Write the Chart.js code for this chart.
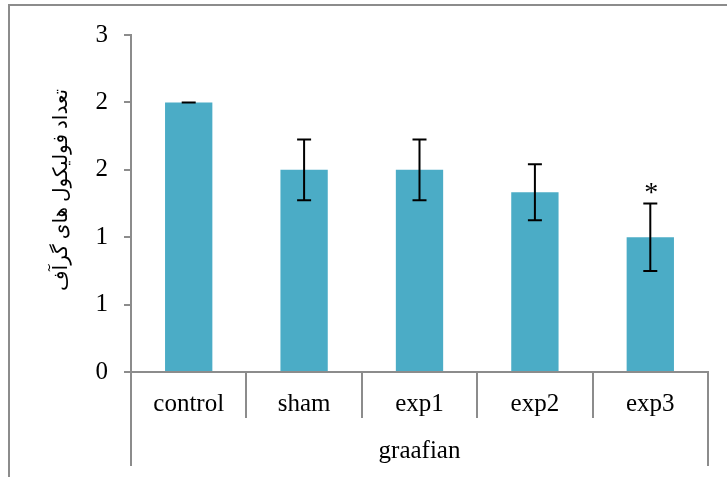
<!DOCTYPE html>
<html lang="en">
<head>
    <meta charset="UTF-8">
    <title>graafian</title>
    <style>
        body {
            margin: 0;
            padding: 0;
            background-color: #ffffff;
        }
        .container {
            width: 727px;
            height: 477px;
            position: relative;
        }
    </style>
    <script src="https://cdn.jsdelivr.net/npm/chart.js"></script>
</head>
<body>
    <div class="container">
        <canvas id="barChart"></canvas>
    </div>

    <script>
        // data
        const categories = ['control', 'sham', 'exp1', 'exp2', 'exp3'];
        const groupLabel = 'graafian';
        const means = [2.4, 1.8, 1.8, 1.6, 1.2];
        const errors = [0, 0.27, 0.27, 0.25, 0.3];
        const marks = ['', '', '', '', '*'];
        const yTitle = 'تعداد فولیکول های گرآف';

        const serif = '"Liberation Serif", "Times New Roman", "DejaVu Sans", serif';
        const axisGray = '#8c8c8c';

        // error bars, separators, group label, frame
        const extras = {
            id: 'extras',
            afterDraw(chart) {
                const ctx = chart.ctx;
                const x = chart.scales.x;
                const y = chart.scales.y;
                const area = chart.chartArea;
                ctx.save();

                // outer frame (only top and left visible)
                ctx.strokeStyle = axisGray;
                ctx.lineWidth = 2;
                ctx.beginPath();
                ctx.moveTo(9, 477);
                ctx.lineTo(9, 5);
                ctx.lineTo(727, 5);
                ctx.stroke();

                // category separators below the axis
                const half = (x.getPixelForValue(1) - x.getPixelForValue(0)) / 2;
                for (let i = 0; i <= categories.length; i++) {
                    const px = Math.round(x.getPixelForValue(i) - half);
                    const end = (i === 0 || i === categories.length) ? 466 : 418;
                    ctx.beginPath();
                    ctx.moveTo(px, area.bottom);
                    ctx.lineTo(px, end);
                    ctx.stroke();
                }

                // group label
                ctx.fillStyle = '#000';
                ctx.font = '25px ' + serif;
                ctx.textAlign = 'center';
                ctx.textBaseline = 'middle';
                ctx.fillText(groupLabel, (area.left + area.right) / 2, 451);

                // error bars
                ctx.strokeStyle = '#000';
                ctx.lineWidth = 2;
                means.forEach((m, i) => {
                    const px = x.getPixelForValue(i);
                    const top = y.getPixelForValue(m + errors[i]);
                    const bot = y.getPixelForValue(m - errors[i]);
                    ctx.beginPath();
                    ctx.moveTo(px, top);
                    ctx.lineTo(px, bot);
                    ctx.moveTo(px - 7, top);
                    ctx.lineTo(px + 7, top);
                    ctx.moveTo(px - 7, bot);
                    ctx.lineTo(px + 7, bot);
                    ctx.stroke();
                    if (marks[i]) {
                        ctx.font = '28px ' + serif;
                        ctx.textBaseline = 'alphabetic';
                        ctx.fillText(marks[i], px + 1, top - 3);
                    }
                });

                // y axis title
                ctx.translate(62, 190);
                ctx.rotate(-Math.PI / 2);
                ctx.font = '20px ' + serif;
                ctx.textBaseline = 'middle';
                ctx.fillText(yTitle, 0, 0);
                ctx.restore();
            }
        };

        const ctx = document.getElementById('barChart').getContext('2d');
        new Chart(ctx, {
            type: 'bar',
            data: {
                labels: categories,
                datasets: [{
                    data: means,
                    backgroundColor: '#4bacc6',
                    borderWidth: 0,
                    barPercentage: 0.41,
                    categoryPercentage: 1
                }]
            },
            options: {
                responsive: true,
                maintainAspectRatio: false,
                animation: false,
                layout: {
                    padding: { top: 35, right: 19, left: 0, bottom: 0 }
                },
                scales: {
                    x: {
                        afterFit: function(scale) { scale.height = 105; },
                        grid: { display: false, drawTicks: false },
                        border: { display: true, color: axisGray, width: 2 },
                        ticks: {
                            color: '#000',
                            padding: 17,
                            font: { family: serif, size: 25 }
                        }
                    },
                    y: {
                        min: 0,
                        max: 3,
                        afterFit: function(scale) { scale.width = 131; },
                        grid: {
                            drawOnChartArea: false,
                            color: axisGray,
                            lineWidth: 2,
                            tickLength: 7
                        },
                        border: { display: true, color: axisGray, width: 2 },
                        ticks: {
                            stepSize: 0.6,
                            color: '#000',
                            padding: 16,
                            font: { family: serif, size: 25 },
                            callback: function(value) {
                                return Math.round(value);
                            }
                        }
                    }
                },
                plugins: {
                    legend: { display: false },
                    tooltip: { enabled: false }
                }
            },
            plugins: [extras]
        });
    </script>
</body>
</html>
